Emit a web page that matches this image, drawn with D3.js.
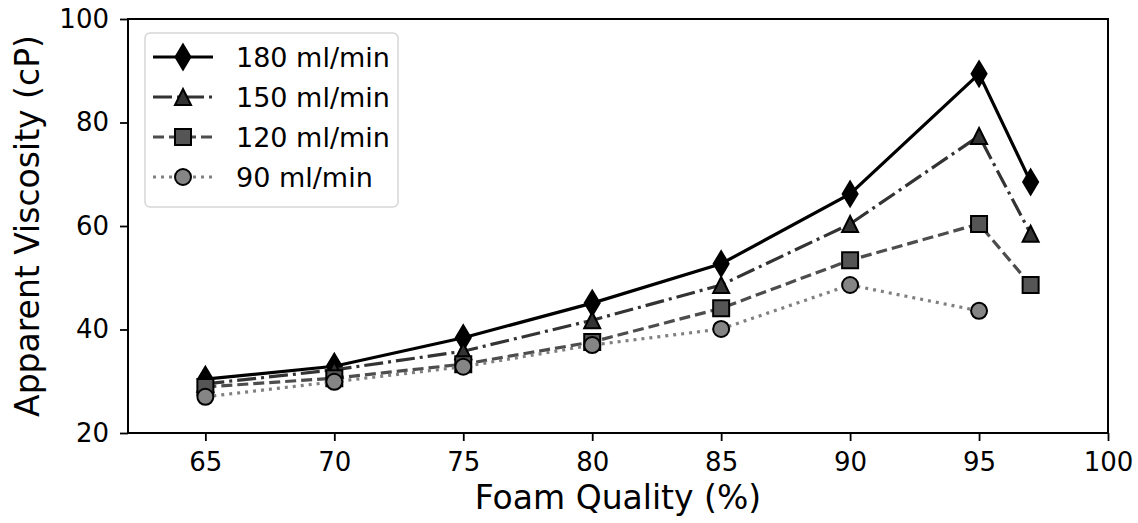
<!DOCTYPE html>
<html>
<head>
<meta charset="utf-8">
<script src="https://d3js.org/d3.v7.min.js"></script>
<style>
  body { margin: 0; background: #fff; }
  text { font-family: "DejaVu Sans", sans-serif; fill: #000; }
</style>
</head>
<body>
<div id="chart"></div>
<script>
// data
var quality = [65, 70, 75, 80, 85, 90, 95, 97];
var v180 = [30.4, 32.9, 38.4, 45.1, 52.7, 66.2, 89.4, 68.5];
var v150 = [29.5, 32.2, 35.8, 41.8, 48.6, 60.4, 77.4, 58.5];
var v120 = [28.9, 30.6, 33.3, 37.6, 44.1, 53.4, 60.4, 48.6];
var v90 = [27.0, 29.9, 32.8, 37.0, 40.1, 48.6, 43.6];
var labels = ['180 ml/min', '150 ml/min', '120 ml/min', '90 ml/min'];
var xTicks = [65, 70, 75, 80, 85, 90, 95, 100];
var yTicks = [20, 40, 60, 80, 100];

var series = [
  { name: labels[0], values: v180, color: '#000', fill: '#000', dash: null, marker: 'diamond' },
  { name: labels[1], values: v150, color: '#333', fill: '#333', dash: '19,5,3,5', marker: 'triangle' },
  { name: labels[2], values: v120, color: '#4d4d4d', fill: '#555', dash: '11,5', marker: 'square' },
  { name: labels[3], values: v90, color: '#808080', fill: '#858585', dash: '3,5', marker: 'circle' }
];

var width = 1138, height = 523;
var margin = { left: 128, right: 30, top: 19, bottom: 90 };

var svg = d3.select('#chart').append('svg')
  .attr('width', width)
  .attr('height', height);

var x = d3.scaleLinear().domain([62, 100]).range([margin.left, width - margin.right]);
var y = d3.scaleLinear().domain([20, 100]).range([height - margin.bottom, margin.top]);

var xAxis = svg.append('g')
  .attr('transform', 'translate(0,' + (height - margin.bottom) + ')')
  .call(d3.axisBottom(x).tickValues(xTicks).tickSize(8).tickPadding(12));
var yAxis = svg.append('g')
  .attr('transform', 'translate(' + margin.left + ',0)')
  .call(d3.axisLeft(y).tickValues(yTicks).tickSize(8).tickPadding(11));

[xAxis, yAxis].forEach(function (a) {
  a.selectAll('text').style('font-size', '26px').style('font-family', '"DejaVu Sans", sans-serif');
  a.selectAll('line').attr('stroke', '#000').attr('stroke-width', 1.8);
  a.select('.domain').remove();
});

// frame
svg.append('rect')
  .attr('x', margin.left).attr('y', margin.top)
  .attr('width', width - margin.right - margin.left)
  .attr('height', height - margin.bottom - margin.top)
  .attr('fill', 'none').attr('stroke', '#000').attr('stroke-width', 2);

svg.append('text')
  .attr('x', (margin.left + width - margin.right) / 2)
  .attr('y', 509)
  .attr('text-anchor', 'middle')
  .style('font-size', '33px')
  .text('Foam Quality (%)');

svg.append('text')
  .attr('transform', 'translate(39,' + (margin.top + (height - margin.bottom - margin.top) / 2) + ') rotate(-90)')
  .attr('text-anchor', 'middle')
  .style('font-size', '33px')
  .text('Apparent Viscosity (cP)');

var symbols = {
  diamond: 'M0,-12.5L7.5,0L0,12.5L-7.5,0Z',
  triangle: 'M0,-8L8,8L-8,8Z',
  square: 'M-8,-8H8V8H-8Z',
  circle: 'M8,0A8,8 0 1,1 -8,0A8,8 0 1,1 8,0Z'
};

var line = d3.line()
  .x(function (d) { return x(d[0]); })
  .y(function (d) { return y(d[1]); });

var plot = svg.append('g');

series.forEach(function (s) {
  var pts = s.values.map(function (v, i) { return [quality[i], v]; });
  plot.append('path')
    .datum(pts)
    .attr('d', line)
    .attr('fill', 'none')
    .attr('stroke', s.color)
    .attr('stroke-width', 3.2)
    .attr('stroke-dasharray', s.dash);
  plot.selectAll(null)
    .data(pts)
    .enter().append('path')
    .attr('transform', function (d) { return 'translate(' + x(d[0]) + ',' + y(d[1]) + ')'; })
    .attr('d', symbols[s.marker])
    .attr('fill', s.fill)
    .attr('stroke', '#000')
    .attr('stroke-width', 2);
});

// legend
var legend = svg.append('g').attr('transform', 'translate(145,33)');
legend.append('rect')
  .attr('width', 253).attr('height', 174)
  .attr('rx', 5).attr('ry', 5)
  .attr('fill', '#fff').attr('fill-opacity', 0.8)
  .attr('stroke', '#d6d6d6').attr('stroke-width', 1.5);

var row = legend.selectAll('.row')
  .data(series)
  .enter().append('g')
  .attr('class', 'row')
  .attr('transform', function (d, i) { return 'translate(0,' + (24 + i * 40) + ')'; });

row.append('line')
  .attr('x1', 8).attr('x2', 68)
  .attr('stroke', function (d) { return d.color; })
  .attr('stroke-width', 3.2)
  .attr('stroke-dasharray', function (d) { return d.dash; });
row.append('path')
  .attr('transform', 'translate(38,0)')
  .attr('d', function (d) { return symbols[d.marker]; })
  .attr('fill', function (d) { return d.fill; })
  .attr('stroke', '#000')
  .attr('stroke-width', 2);
row.append('text')
  .attr('x', 91)
  .attr('y', 10)
  .style('font-size', '27px')
  .text(function (d) { return d.name; });
</script>
</body>
</html>
